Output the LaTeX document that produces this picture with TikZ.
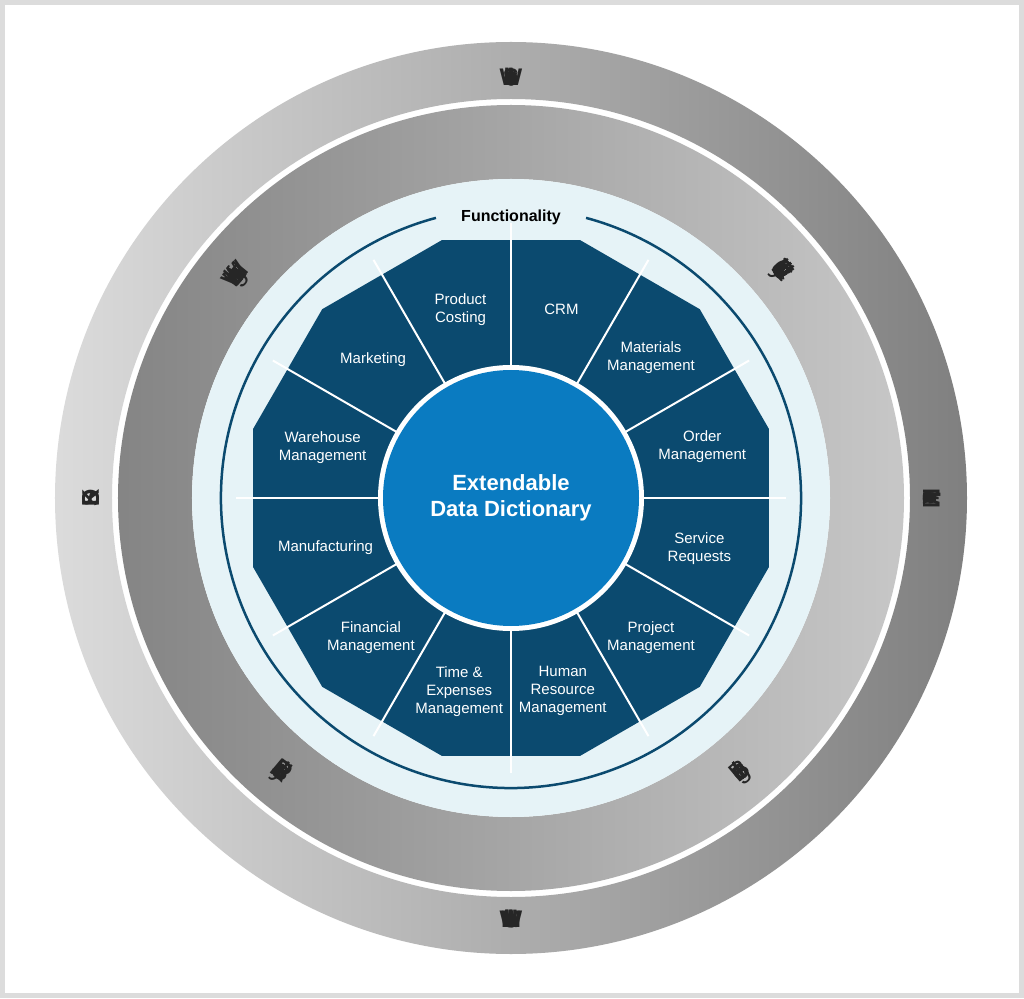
\documentclass[tikz,border=0pt]{standalone}
\usepackage{fontspec}
\setmainfont{Liberation Sans}
\definecolor{segblue}{HTML}{0B4A6F}
\definecolor{ctrblue}{HTML}{0A7BC1}
\definecolor{lightdisk}{HTML}{E6F3F7}
\definecolor{framegray}{HTML}{DCDCDC}
\newdimen\rsArcW \newdimen\rsChW \newdimen\rsArcPos \newbox\rsBox
% #1 radius #2 centre angle #3 dir (-1 cw, tops outward; 1 ccw, tops inward) #4 font #5 char list
\newcommand\arctext[5]{%
  \global\rsArcW=0pt
  \foreach \rsc in {#5}{\setbox\rsBox=\hbox{\normalfont#4\rsc}\global\advance\rsArcW by \wd\rsBox}%
  \global\rsArcPos=0pt
  \foreach \rsc in {#5}{\setbox\rsBox=\hbox{\normalfont#4\rsc}\rsChW=\wd\rsBox
    \edef\rsS{\the\dimexpr\rsArcPos+\rsChW/2-\rsArcW/2\relax}%
    \pgfmathsetmacro\rsAng{#2+(#3)*(\rsS)/(#1)*57.29578}%
    \pgfmathsetmacro\rsRot{\rsAng+(#3)*90}%
    \node[rotate=\rsRot,anchor=base,inner sep=0,text=black!85,font=\normalfont#4] at (\rsAng:#1) {\rsc};
    \global\advance\rsArcPos by \rsChW}%
}
\begin{document}
\begin{tikzpicture}[x=1pt,y=1pt,
  seg/.style={text=white,align=center,font=\fontsize{15}{18}\selectfont},
  sep/.style={white,line width=2pt}]
\useasboundingbox (-511,-500) rectangle (513,498);
\fill[framegray] (-511,-500) rectangle (513,498);
\fill[white] (-506,-495) rectangle (508,493);
% outer ring
\path[even odd rule,left color=black!14,right color=black!50] (0,0) circle (456) (0,0) circle (399);
% middle ring
\path[even odd rule,left color=black!48,right color=black!22] (0,0) circle (393) (0,0) circle (319);
% light disk
\fill[lightdisk] (0,0) circle (319);
\draw[segblue,line width=2.5pt] (105:290) arc (105:435:290);
\node (func) at (0,281) {\fontsize{16}{18}\selectfont\bfseries Functionality};
% wheel
\fill[segblue] (15:267) \foreach \a in {45,75,...,345} {-- (\a:267)} -- cycle;
\foreach \a in {0,30,...,330} \draw[sep] (0,0) -- (\a:275);
\fill[white] (0,0) circle (133);
\node[circle,fill=ctrblue,minimum size=256,inner sep=0,align=center,text=white,font=\fontsize{22}{26}\selectfont\bfseries] (core) at (0,0) {Extendable\\Data Dictionary};
% segment labels
\node[seg] (pc) at (105:195) {Product\\Costing};
\node[seg] (crm) at (75:195) {CRM};
\node[seg] (mm) at (45:198) {Materials\\Management};
\node[seg] (om) at (15:198) {Order\\Management};
\node[seg] (sr) at (-15:195) {Service\\Requests};
\node[seg] (pm) at (-45:198) {Project\\Management};
\node[seg] (hr) at (-75:200) {Human\\Resource\\Management};
\node[seg] (te) at (-105:200) {Time \&\\Expenses\\Management};
\node[seg] (fm) at (-135:198) {Financial\\Management};
\node[seg] (mf) at (-165:192) {Manufacturing};
\node[seg] (wm) at (165:195) {Warehouse\\Management};
\node[seg] (mk) at (135:195) {Marketing};
% outer ring text
\arctext{412}{90}{-1}{\fontsize{24}{24}\selectfont\bfseries}{W,e,b,\ ,S,e,r,v,i,c,e,s}
\arctext{429}{270}{1}{\fontsize{24}{24}\selectfont\bfseries}{M,o,b,i,l,e,\ ,a,n,d,\ ,W,e,b}
\arctext{412}{180}{-1}{\fontsize{24}{24}\selectfont\bfseries}{S,D,K}
\arctext{412}{0}{-1}{\fontsize{24}{24}\selectfont\bfseries}{M,a,r,k,e,t}
% middle ring text
\arctext{346}{141}{-1}{\fontsize{27}{27}\selectfont}{W,o,r,k,f,l,o,w,\ ,M,a,n,a,g,e,m,e,n,t}
\arctext{346}{40}{-1}{\fontsize{27}{27}\selectfont}{P,r,o,d,u,c,t,i,v,i,t,y,\ ,\&,\ ,C,o,l,l,a,b,o,r,a,t,i,o,n,\ ,T,o,o,l,s}
\arctext{365}{230}{1}{\fontsize{27}{27}\selectfont}{R,o,l,e,\ ,B,a,s,e,d,\ ,S,e,c,u,r,i,t,y}
\arctext{365}{310}{1}{\fontsize{27}{27}\selectfont}{B,u,s,i,n,e,s,s,\ ,I,n,t,e,l,l,i,g,e,n,c,e}
\end{tikzpicture}
\end{document}
